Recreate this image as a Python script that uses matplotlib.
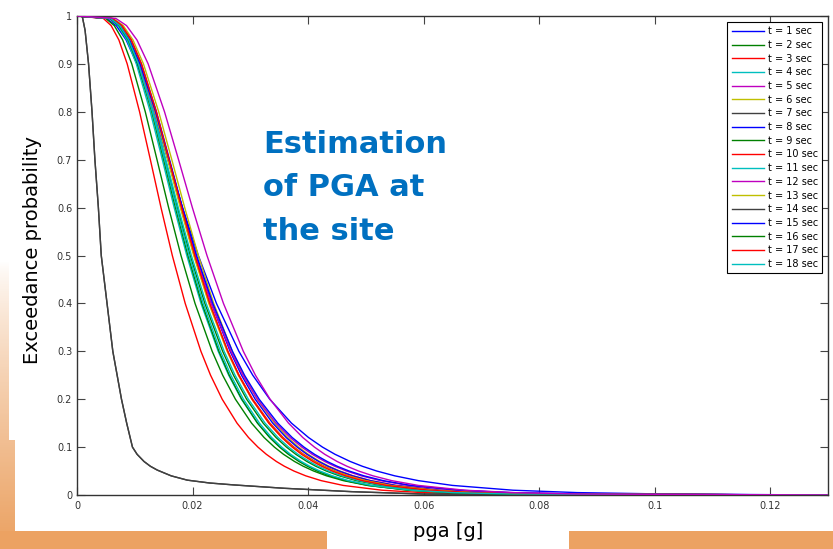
import numpy as np
import matplotlib
matplotlib.use('Agg')
import matplotlib.pyplot as plt
from matplotlib.patches import Rectangle

# exceedance levels shared by the hazard curves
LEVELS = [1.0, 0.995, 0.98, 0.95, 0.9, 0.8, 0.7, 0.6, 0.5, 0.4, 0.3, 0.25, 0.2, 0.15,
          0.12, 0.1, 0.085, 0.07, 0.06, 0.05, 0.04, 0.03, 0.02, 0.01, 0.005, 0.002, 0.0]

# pga [g] reached at each level, one list per time window
PGA_T1 = [0, 0.00509, 0.00679, 0.00850, 0.01038, 0.01322, 0.01574, 0.01827, 0.02100, 0.02414, 0.02802, 0.03043, 0.03336, 0.03713,
          0.04008, 0.04249, 0.04466, 0.04729, 0.04939, 0.05190, 0.05501, 0.05909, 0.06500, 0.07548, 0.08660, 0.10226, 0.13]
PGA_T2 = [0, 0.00496, 0.00645, 0.00791, 0.00948, 0.01182, 0.01385, 0.01586, 0.01800, 0.02043, 0.02340, 0.02522, 0.02742, 0.03022,
          0.03239, 0.03417, 0.03574, 0.03765, 0.03917, 0.04097, 0.04320, 0.04610, 0.05027, 0.05759, 0.06526, 0.07590, 0.13]
PGA_T3 = [0, 0.00455, 0.00591, 0.00725, 0.00869, 0.01083, 0.01270, 0.01454, 0.01650, 0.01873, 0.02145, 0.02312, 0.02513, 0.02770,
          0.02969, 0.03132, 0.03277, 0.03451, 0.03590, 0.03756, 0.03960, 0.04226, 0.04608, 0.05279, 0.05982, 0.06957, 0.13]
PGA_T4 = [0, 0.00552, 0.00709, 0.00863, 0.01027, 0.01268, 0.01477, 0.01682, 0.01900, 0.02146, 0.02444, 0.02626, 0.02846, 0.03125,
          0.03340, 0.03515, 0.03671, 0.03859, 0.04008, 0.04185, 0.04403, 0.04687, 0.05092, 0.05803, 0.06543, 0.07563, 0.13]
PGA_T5 = [0, 0.00671, 0.00857, 0.01038, 0.01232, 0.01515, 0.01758, 0.01997, 0.02250, 0.02535, 0.02879, 0.03089, 0.03342, 0.03662,
          0.03909, 0.04110, 0.04288, 0.04502, 0.04673, 0.04875, 0.05124, 0.05447, 0.05909, 0.06714, 0.07550, 0.08702, 0.13]
PGA_T6 = [0, 0.00626, 0.00800, 0.00969, 0.01150, 0.01414, 0.01641, 0.01864, 0.02100, 0.02366, 0.02687, 0.02883, 0.03119, 0.03418,
          0.03648, 0.03836, 0.04002, 0.04202, 0.04361, 0.04550, 0.04782, 0.05083, 0.05515, 0.06266, 0.07047, 0.08122, 0.13]
PGA_T8 = [0, 0.00598, 0.00769, 0.00935, 0.01113, 0.01375, 0.01602, 0.01824, 0.02060, 0.02326, 0.02650, 0.02848, 0.03085, 0.03388,
          0.03621, 0.03811, 0.03980, 0.04183, 0.04345, 0.04537, 0.04774, 0.05081, 0.05521, 0.06291, 0.07094, 0.08200, 0.13]
PGA_T9 = [0, 0.00569, 0.00731, 0.00890, 0.01059, 0.01308, 0.01524, 0.01736, 0.01960, 0.02213, 0.02521, 0.02709, 0.02936, 0.03223,
          0.03445, 0.03626, 0.03787, 0.03980, 0.04134, 0.04317, 0.04542, 0.04835, 0.05253, 0.05986, 0.06749, 0.07802, 0.13]
PGA_T10 = [0, 0.00590, 0.00757, 0.00922, 0.01097, 0.01355, 0.01578, 0.01798, 0.02030, 0.02292, 0.02611, 0.02806, 0.03041, 0.03339,
           0.03568, 0.03756, 0.03922, 0.04123, 0.04282, 0.04471, 0.04705, 0.05007, 0.05441, 0.06200, 0.06990, 0.08080, 0.13]
PGA_T11 = [0, 0.00575, 0.00739, 0.00899, 0.01070, 0.01322, 0.01539, 0.01753, 0.01980, 0.02236, 0.02547, 0.02737, 0.02966, 0.03256,
           0.03480, 0.03663, 0.03825, 0.04021, 0.04177, 0.04361, 0.04589, 0.04884, 0.05307, 0.06047, 0.06818, 0.07881, 0.13]
PGA_T12 = [0, 0.00565, 0.00734, 0.00901, 0.01080, 0.01346, 0.01577, 0.01806, 0.02050, 0.02327, 0.02665, 0.02872, 0.03123, 0.03442,
           0.03689, 0.03891, 0.04071, 0.04288, 0.04461, 0.04666, 0.04920, 0.05251, 0.05725, 0.06559, 0.07433, 0.08644, 0.13]
PGA_T13 = [0, 0.00587, 0.00754, 0.00917, 0.01092, 0.01349, 0.01571, 0.01789, 0.02020, 0.02281, 0.02598, 0.02792, 0.03026, 0.03322,
           0.03551, 0.03737, 0.03903, 0.04102, 0.04261, 0.04449, 0.04681, 0.04983, 0.05414, 0.06169, 0.06956, 0.08041, 0.13]
PGA_T15 = [0, 0.00571, 0.00741, 0.00909, 0.01091, 0.01359, 0.01593, 0.01824, 0.02070, 0.02350, 0.02691, 0.02900, 0.03153, 0.03476,
           0.03725, 0.03929, 0.04111, 0.04330, 0.04504, 0.04712, 0.04968, 0.05302, 0.05781, 0.06623, 0.07505, 0.08728, 0.13]
PGA_T16 = [0, 0.00572, 0.00731, 0.00886, 0.01051, 0.01293, 0.01500, 0.01704, 0.01920, 0.02163, 0.02457, 0.02636, 0.02852, 0.03125,
           0.03335, 0.03507, 0.03659, 0.03842, 0.03988, 0.04160, 0.04372, 0.04648, 0.05042, 0.05729, 0.06443, 0.07426, 0.13]
PGA_T17 = [0, 0.00608, 0.00777, 0.00941, 0.01117, 0.01374, 0.01594, 0.01811, 0.02040, 0.02298, 0.02610, 0.02801, 0.03030, 0.03320,
           0.03544, 0.03726, 0.03887, 0.04082, 0.04237, 0.04420, 0.04646, 0.04938, 0.05357, 0.06087, 0.06846, 0.07890, 0.13]
PGA_T18 = [0, 0.00578, 0.00739, 0.00895, 0.01062, 0.01306, 0.01516, 0.01722, 0.01940, 0.02185, 0.02482, 0.02664, 0.02881, 0.03158,
           0.03370, 0.03543, 0.03697, 0.03882, 0.04029, 0.04204, 0.04418, 0.04696, 0.05094, 0.05789, 0.06510, 0.07503, 0.13]

# the 7 s and 14 s windows fall off much faster, so they have their own levels
LEVELS_FAST = [1.0, 1.0, 0.97, 0.9, 0.8, 0.7, 0.6, 0.5, 0.4, 0.3, 0.2, 0.15, 0.1,
               0.085, 0.07, 0.06, 0.052, 0.04, 0.031, 0.025, 0.021, 0.014, 0.007, 0.002, 0.0]
PGA_T7 = [0, 0.0009, 0.0014, 0.0020, 0.0026, 0.0031, 0.0037, 0.0042, 0.0052, 0.0062, 0.0077, 0.0086, 0.0096,
          0.0104, 0.0116, 0.0127, 0.0139, 0.0163, 0.0191, 0.0230, 0.0272, 0.0359, 0.0475, 0.0600, 0.13]
PGA_T14 = [0, 0.0009, 0.0014, 0.0020, 0.0026, 0.0031, 0.0037, 0.0042, 0.0052, 0.0062, 0.0077, 0.0086, 0.0096,
           0.0104, 0.0116, 0.0127, 0.0139, 0.0163, 0.0191, 0.0230, 0.0272, 0.0359, 0.0475, 0.0600, 0.13]

WINDOWS = list(range(1, 19))
X_TICKS = [0, 0.02, 0.04, 0.06, 0.08, 0.1, 0.12]
X_TICK_LABELS = ['0', '0.02', '0.04', '0.06', '0.08', '0.1', '0.12']
Y_TICKS = [0, 0.1, 0.2, 0.3, 0.4, 0.5, 0.6, 0.7, 0.8, 0.9, 1]
Y_TICK_LABELS = ['0', '0.1', '0.2', '0.3', '0.4', '0.5', '0.6', '0.7', '0.8', '0.9', '1']

# matlab-style colour cycle b g r c m y k
CYCLE = ['#0000ff', '#008000', '#ff0000', '#00bfbf', '#bf00bf', '#bfbf00', '#404040']
ORANGE = (0.925, 0.635, 0.384)


def main():
    curves = {
        1: (PGA_T1, LEVELS), 2: (PGA_T2, LEVELS), 3: (PGA_T3, LEVELS),
        4: (PGA_T4, LEVELS), 5: (PGA_T5, LEVELS), 6: (PGA_T6, LEVELS),
        7: (PGA_T7, LEVELS_FAST), 8: (PGA_T8, LEVELS), 9: (PGA_T9, LEVELS),
        10: (PGA_T10, LEVELS), 11: (PGA_T11, LEVELS), 12: (PGA_T12, LEVELS),
        13: (PGA_T13, LEVELS), 14: (PGA_T14, LEVELS_FAST), 15: (PGA_T15, LEVELS),
        16: (PGA_T16, LEVELS), 17: (PGA_T17, LEVELS), 18: (PGA_T18, LEVELS),
    }

    fig = plt.figure(figsize=(8.33, 5.49), dpi=100)

    # slide decoration: orange strip on the left, bars along the bottom
    bg = fig.add_axes([0, 0, 1, 1], zorder=-5)
    bg.set_xlim(0, 833)
    bg.set_ylim(549, 0)
    bg.axis('off')
    grad = np.ones((100, 1, 4))
    grad[:, 0, 0] = ORANGE[0]
    grad[:, 0, 1] = ORANGE[1]
    grad[:, 0, 2] = ORANGE[2]
    grad[:, 0, 3] = np.linspace(0.0, 1.0, 100) ** 0.8
    bg.imshow(grad, extent=[0, 15, 549, 260], aspect='auto', interpolation='bilinear')
    bg.add_patch(Rectangle((9, 255), 7, 185, color='white', lw=0))
    bg.add_patch(Rectangle((0, 531), 327, 18, color=ORANGE, lw=0))
    bg.add_patch(Rectangle((569, 531), 264, 18, color=ORANGE, lw=0))

    ax = fig.add_axes([77 / 833, 54 / 549, 751 / 833, 479 / 549])
    for t in WINDOWS:
        xs, ps = curves[t]
        ax.plot(xs, ps, color=CYCLE[(t - 1) % 7], lw=1.0,
                label=f't = {t} sec', zorder=3 if t == 5 else 2)

    ax.set_xlim(0, 0.13)
    ax.set_ylim(0, 1)
    ax.set_xticks(X_TICKS)
    ax.set_xticklabels(X_TICK_LABELS)
    ax.set_yticks(Y_TICKS)
    ax.set_yticklabels(Y_TICK_LABELS)
    ax.tick_params(direction='in', length=5.5, width=0.8, color='#444444',
                   labelsize=7, labelcolor='#333333', top=True, right=True)
    ax.tick_params(axis='x', pad=4)
    ax.tick_params(axis='y', pad=3.5)
    for sp in ax.spines.values():
        sp.set_color('#333333')
        sp.set_linewidth(1.0)

    ax.set_xlabel('pga [g]', fontsize=14)
    ax.xaxis.set_label_coords(0.494, -0.056)
    ax.set_ylabel('Exceedance probability', fontsize=14)
    ax.yaxis.set_label_coords(-0.046, 0.5115)

    leg = ax.legend(loc='upper right', fontsize=7, handlelength=3.3, handletextpad=0.4,
                    labelspacing=0.38, borderpad=0.45, borderaxespad=0.6,
                    fancybox=False, framealpha=1, edgecolor='black')
    leg.get_frame().set_linewidth(0.8)

    fig.text(263 / 833, (549 - 130) / 549, 'Estimation\nof PGA at\nthe site',
             color='#0070c0', fontsize=22, fontweight='bold', ha='left', va='top',
             linespacing=1.62)

    fig.savefig('out.png', dpi=100)
    plt.close(fig)


if __name__ == '__main__':
    main()
